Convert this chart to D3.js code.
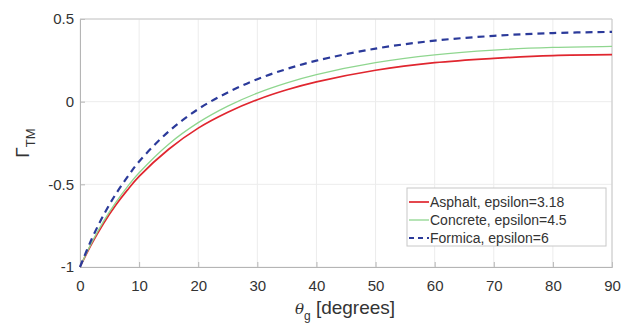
<!DOCTYPE html>
<html>
<head>
<meta charset="utf-8">
<script src="https://cdn.jsdelivr.net/npm/d3@7"></script>
<style>
  body { margin: 0; background: #fff; }
  svg { font-family: "Liberation Sans", Arial, sans-serif; }
</style>
</head>
<body>
<svg id="chart" width="629" height="323"></svg>
<script>
// grazing angle in degrees
const angles = [0, 2, 4, 6, 8, 10, 15, 20, 25, 30, 35, 40, 50, 60, 70, 80, 90];

const asphalt = [-1, -0.858, -0.735, -0.628, -0.535, -0.452, -0.288, -0.16, -0.064, 0.012, 0.072, 0.12, 0.19, 0.236, 0.262, 0.279, 0.284];
const concrete = [-1, -0.851, -0.723, -0.612, -0.515, -0.43, -0.257, -0.127, -0.027, 0.052, 0.114, 0.164, 0.236, 0.283, 0.312, 0.328, 0.335];
const formica = [-1, -0.829, -0.685, -0.562, -0.457, -0.362, -0.18, -0.045, 0.056, 0.136, 0.198, 0.248, 0.321, 0.369, 0.398, 0.415, 0.422];

const xTicks = [0, 10, 20, 30, 40, 50, 60, 70, 80, 90];
const yTicks = [-1, -0.5, 0, 0.5];

const series = [
  { name: 'Asphalt, epsilon=3.18', values: asphalt, color: '#e0262f', width: 1.7, dash: null },
  { name: 'Concrete, epsilon=4.5', values: concrete, color: '#8fd68f', width: 1.3, dash: null },
  { name: 'Formica, epsilon=6', values: formica, color: '#2b3a9a', width: 2.2, dash: '7,5' }
];

const svg = d3.select('#chart');
const padL = 80, padR = 612, padT = 19, padB = 267;

const x = d3.scaleLinear().domain([0, 90]).range([padL, padR]);
const y = d3.scaleLinear().domain([-1, 0.5]).range([padB, padT]);

// grid
svg.append('g')
  .selectAll('line')
  .data(xTicks)
  .join('line')
  .attr('x1', d => x(d)).attr('x2', d => x(d))
  .attr('y1', padT).attr('y2', padB)
  .attr('stroke', '#ececec');

svg.append('g')
  .selectAll('line')
  .data(yTicks)
  .join('line')
  .attr('x1', padL).attr('x2', padR)
  .attr('y1', d => y(d)).attr('y2', d => y(d))
  .attr('stroke', '#ececec');

// axes (ticks inward like matlab)
const xAxis = svg.append('g')
  .attr('transform', `translate(0,${padB})`)
  .call(d3.axisBottom(x).tickValues(xTicks).tickSize(-5).tickPadding(13).tickFormat(d3.format('d')));

const yAxis = svg.append('g')
  .attr('transform', `translate(${padL},0)`)
  .call(d3.axisLeft(y).tickValues(yTicks).tickSize(-5).tickPadding(6).tickFormat(d => d === 0 ? '0' : String(d)));

[xAxis, yAxis].forEach(a => {
  a.select('.domain').attr('stroke', '#b5b5b5');
  a.selectAll('.tick line').attr('stroke', '#b5b5b5');
  a.selectAll('.tick text').attr('fill', '#333').attr('font-size', 15);
});

// top and right box edges
svg.append('line').attr('x1', padL).attr('x2', padR).attr('y1', padT).attr('y2', padT).attr('stroke', '#c8c8c8');
svg.append('line').attr('x1', padR).attr('x2', padR).attr('y1', padT).attr('y2', padB).attr('stroke', '#c8c8c8');

// curves
const line = d3.line()
  .x((d, i) => x(angles[i]))
  .y(d => y(d))
  .curve(d3.curveCatmullRom);

svg.append('g')
  .selectAll('path')
  .data(series)
  .join('path')
  .attr('d', d => line(d.values))
  .attr('fill', 'none')
  .attr('stroke', d => d.color)
  .attr('stroke-width', d => d.width)
  .attr('stroke-dasharray', d => d.dash);

// legend
const lg = svg.append('g').attr('transform', 'translate(407,188)');
lg.append('rect')
  .attr('width', 199).attr('height', 58)
  .attr('fill', '#fff').attr('stroke', '#c8c8c8');

const rows = lg.selectAll('g.row')
  .data(series)
  .join('g')
  .attr('transform', (d, i) => `translate(0,${14 + i * 18})`);

rows.append('line')
  .attr('x1', 2).attr('x2', 22)
  .attr('stroke', d => d.color)
  .attr('stroke-width', d => d.width)
  .attr('stroke-dasharray', d => d.dash ? '5,4' : null);

rows.append('text')
  .attr('x', 23).attr('dy', '0.36em')
  .attr('font-size', 14)
  .attr('fill', '#333')
  .text(d => d.name);

// axis labels
const xl = svg.append('text')
  .attr('x', 345).attr('y', 314)
  .attr('text-anchor', 'middle')
  .attr('font-size', 19)
  .attr('fill', '#333');
xl.append('tspan').attr('font-family', 'DejaVu Serif').attr('font-style', 'italic').attr('font-size', 15).text('θ');
xl.append('tspan').attr('dy', 6).attr('font-size', 12).text('g');
xl.append('tspan').attr('dy', -6).text(' [degrees]');

const yl = svg.append('text')
  .attr('transform', 'translate(29,143) rotate(-90)')
  .attr('text-anchor', 'middle')
  .attr('font-size', 19)
  .attr('fill', '#333');
yl.append('tspan').text('Γ');
yl.append('tspan').attr('dy', 6).attr('font-size', 13).text('TM');
</script>
</body>
</html>
